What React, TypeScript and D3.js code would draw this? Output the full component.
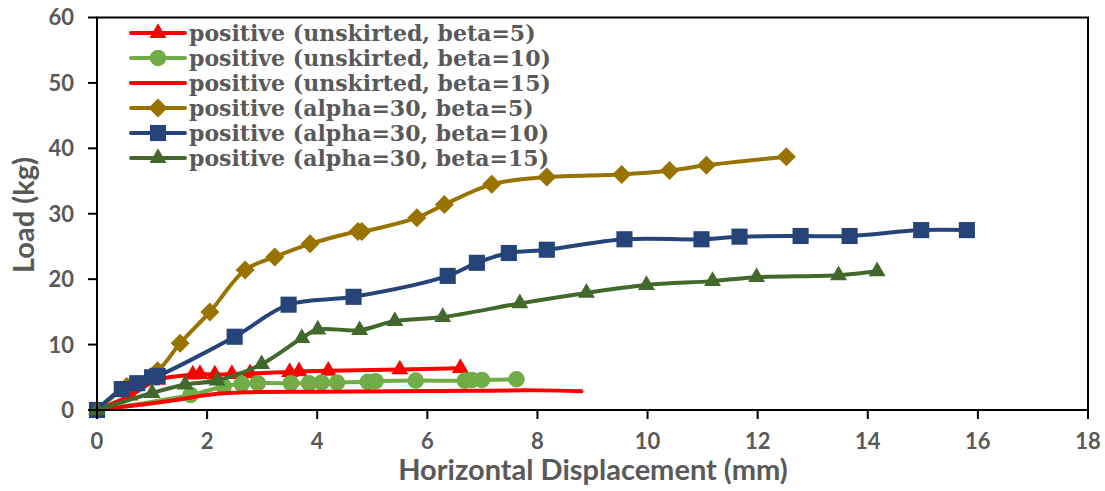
import React from "react";
import * as d3 from "d3";

type Pt = [number, number];

// Load–displacement series (x: mm, y: kg)
const unskirtedBeta5: Pt[] = [
  [0, 0], [0.6, 2.2], [1.1, 4.6], [1.74, 5.4], [1.87, 5.5], [2.14, 5.4], [2.45, 5.5],
  [2.78, 5.6], [3.5, 5.8], [3.67, 5.9], [4.2, 6.0], [5.5, 6.2], [6.6, 6.4],
];
const unskirtedBeta10: Pt[] = [
  [0, 0], [1.7, 2.3], [2.3, 3.6], [2.63, 4.0], [2.92, 4.1], [3.52, 4.1], [3.85, 4.1],
  [4.08, 4.2], [4.36, 4.2], [4.92, 4.3], [5.06, 4.4], [5.79, 4.5], [6.68, 4.5],
  [6.81, 4.6], [6.99, 4.6], [7.62, 4.7],
];
const unskirtedBeta15: Pt[] = [
  [0, 0], [0.6, 0.6], [1.4, 1.5], [2.0, 2.3], [2.7, 2.7], [4, 2.8], [6, 2.9], [8, 3.0], [8.8, 2.85],
];
const alpha30Beta5: Pt[] = [
  [0, 0], [0.54, 3.6], [1.1, 6.0], [1.51, 10.2], [2.05, 15.0], [2.69, 21.4], [3.23, 23.4],
  [3.87, 25.4], [4.74, 27.3], [4.81, 27.3], [5.81, 29.4], [6.31, 31.4], [7.17, 34.5],
  [8.17, 35.6], [9.53, 36.0], [10.4, 36.6], [11.07, 37.4], [12.52, 38.7],
];
const alpha30Beta10: Pt[] = [
  [0, 0], [0.45, 3.2], [0.73, 4.1], [1.0, 5.0], [1.1, 5.2], [2.5, 11.2], [3.48, 16.1],
  [4.66, 17.3], [6.37, 20.5], [6.9, 22.5], [7.48, 24.0], [8.17, 24.5], [9.58, 26.1],
  [10.98, 26.1], [11.67, 26.5], [12.78, 26.6], [13.67, 26.6], [14.97, 27.5], [15.8, 27.5],
];
const alpha30Beta15: Pt[] = [
  [0, 0], [1.0, 2.6], [1.6, 3.9], [2.18, 4.5], [2.99, 7.0], [3.72, 11.0], [4.01, 12.3],
  [4.77, 12.2], [5.41, 13.6], [6.28, 14.2], [7.68, 16.3], [8.89, 17.9], [9.98, 19.1],
  [11.18, 19.7], [11.98, 20.3], [13.47, 20.6], [14.17, 21.2],
];

const seriesNames = [
  "positive (unskirted, beta=5)",
  "positive (unskirted, beta=10)",
  "positive (unskirted, beta=15)",
  "positive (alpha=30, beta=5)",
  "positive (alpha=30, beta=10)",
  "positive (alpha=30, beta=15)",
];
const seriesData = [unskirtedBeta5, unskirtedBeta10, unskirtedBeta15, alpha30Beta5, alpha30Beta10, alpha30Beta15];
const seriesColors = ["#FF0000", "#70AD47", "#FF0000", "#997300", "#264478", "#43682B"];
const seriesMarkers = ["triangle", "circle", "none", "diamond", "square", "triangle"];

const xTicks = [0, 2, 4, 6, 8, 10, 12, 14, 16, 18];
const yTicks = [0, 10, 20, 30, 40, 50, 60];

const W = 1105;
const H = 491;
const left = 97;
const right = 1088;
const top = 17.5;
const bottom = 410;

const x = d3.scaleLinear().domain([0, 18]).range([left, right]);
const y = d3.scaleLinear().domain([0, 60]).range([bottom, top]);

const line = d3
  .line<Pt>()
  .x((d) => x(d[0]))
  .y((d) => y(d[1]))
  .curve(d3.curveCatmullRom.alpha(0.5));

function markerPath(kind: string): string {
  switch (kind) {
    case "triangle":
      return d3.symbol(d3.symbolTriangle, 125)() as string;
    case "circle":
      return d3.symbol(d3.symbolCircle, 215)() as string;
    case "square":
      return d3.symbol(d3.symbolSquare, 260)() as string;
    case "diamond": {
      const r = 9.5;
      return `M0,${-r}L${r},0L0,${r}L${-r},0Z`;
    }
    default:
      return "";
  }
}

const textGray = "#595959";
const axisFont = "Lato, 'Open Sans', sans-serif";
const legendFont = "'DejaVu Serif', 'Liberation Serif', serif";

export default function App() {
  const legendY = (i: number) => 33 + i * 25;
  return (
    <svg width={W} height={H} style={{ position: "absolute", left: 0, top: 0, background: "#fff" }}>
      {/* series */}
      {seriesData.map((data, i) => (
        <g key={i}>
          <path d={line(data) ?? ""} fill="none" stroke={seriesColors[i]} strokeWidth={4} strokeLinejoin="round" strokeLinecap="round" />
          {seriesMarkers[i] !== "none" &&
            data.map((d, j) => (
              <path key={j} d={markerPath(seriesMarkers[i])} transform={`translate(${x(d[0])},${y(d[1])})`} fill={seriesColors[i]} />
            ))}
        </g>
      ))}

      {/* plot frame */}
      <rect x={left} y={top} width={right - left} height={bottom - top} fill="none" stroke="#000" strokeWidth={2} />

      {/* y axis */}
      {yTicks.map((t) => (
        <g key={t}>
          <line x1={left - 9} x2={left} y1={y(t)} y2={y(t)} stroke="#000" strokeWidth={2} />
          <text x={left - 23} y={y(t)} dy="0.36em" textAnchor="end" fontFamily={axisFont} fontWeight={700} fontSize={22} fill={textGray}>
            {t}
          </text>
        </g>
      ))}

      {/* x axis */}
      {xTicks.map((t) => (
        <g key={t}>
          <line x1={x(t)} x2={x(t)} y1={bottom} y2={bottom + 9} stroke="#000" strokeWidth={2} />
          <text x={x(t)} y={441} dy="0.36em" textAnchor="middle" fontFamily={axisFont} fontWeight={700} fontSize={22} fill={textGray}>
            {t}
          </text>
        </g>
      ))}

      <text x={593} y={470} dy="0.36em" textAnchor="middle" fontFamily={axisFont} fontWeight={700} fontSize={29} fill={textGray}>
        Horizontal Displacement (mm)
      </text>
      <text transform="translate(24,215) rotate(-90)" dy="0.36em" textAnchor="middle" fontFamily={axisFont} fontWeight={700} fontSize={29} fill={textGray}>
        Load (kg)
      </text>

      {/* legend */}
      {seriesNames.map((name, i) => (
        <g key={name} transform={`translate(0,${legendY(i)})`}>
          <line x1={131} x2={185} y1={0} y2={0} stroke={seriesColors[i]} strokeWidth={4} strokeLinecap="round" />
          {seriesMarkers[i] !== "none" && <path d={markerPath(seriesMarkers[i])} transform="translate(158,0)" fill={seriesColors[i]} />}
          <text x={189} y={0} dy="0.36em" fontFamily={legendFont} fontWeight={700} fontSize={22} fill={textGray}>
            {name}
          </text>
        </g>
      ))}
    </svg>
  );
}
